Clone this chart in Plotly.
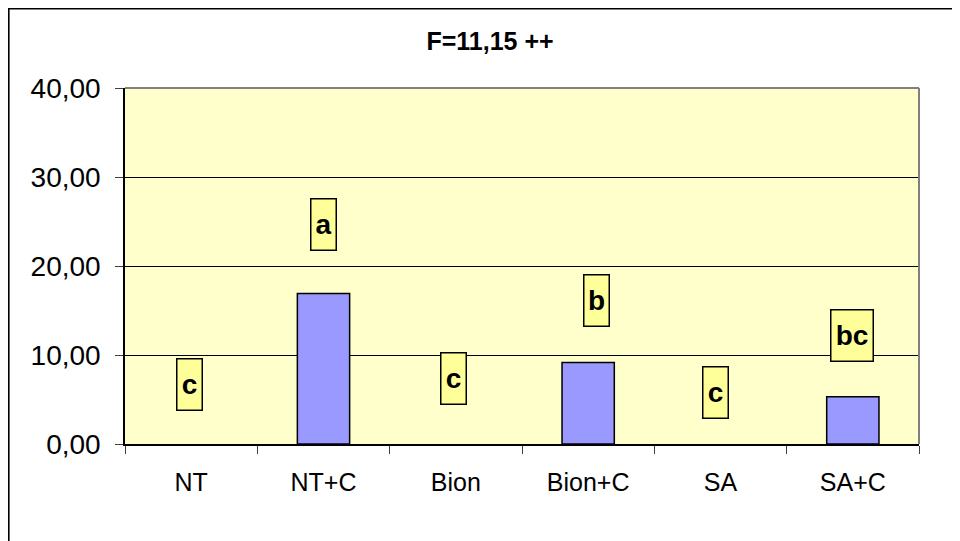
import plotly.graph_objects as go

categories = ["NT", "NT+C", "Bion", "Bion+C", "SA", "SA+C"]
values = [0.0, 16.9, 0.0, 9.15, 0.0, 5.3]
letters = ["c", "a", "c", "b", "c", "bc"]
letter_y = [6.7, 24.65, 7.4, 16.1, 5.8, 12.15]
letter_dx = [-1.5, 0, -2, 8, -5, -1]
y_ticks = [0, 10, 20, 30, 40]
title_text = "F=11,15 ++"

FONT = "Arial, Liberation Sans, sans-serif"

# page body adds 8px offset; figure is sized to fit the 960x541 window
W, H = 952, 533
ML, MR, MT, MB = 117, 41, 80, 97
PW, PH = W - ML - MR, H - MT - MB

fig = go.Figure()
fig.add_trace(go.Bar(
    x=categories, y=values,
    marker=dict(color="#9999FF",
                line=dict(color="black", width=[0 if v == 0 else 1.5 for v in values])),
    width=0.395,
))

for cat, txt, ly, dx in zip(categories, letters, letter_y, letter_dx):
    fig.add_annotation(
        x=cat, y=ly, xref="x", yref="y", text="<b>%s</b>" % txt,
        showarrow=False, xshift=dx,
        font=dict(family=FONT, size=28, color="black"),
        bgcolor="#FFFF99", bordercolor="black", borderwidth=1.5, borderpad=0,
        width=24 if len(txt) == 1 else 41, height=50,
    )

# plot-area top/right grey border
fig.add_shape(type="line", xref="x domain", yref="y domain", x0=0, x1=1, y0=1, y1=1,
              line=dict(color="#808080", width=2))
fig.add_shape(type="line", xref="x domain", yref="y domain", x0=1, x1=1, y0=0, y1=1,
              line=dict(color="#808080", width=2))
# outer chart border
fig.add_shape(type="rect", xref="paper", yref="paper",
              x0=(-ML + 0.8) / PW, x1=1.2, y0=-0.5, y1=1 + (MT - 0.8) / PH,
              line=dict(color="black", width=1.6), layer="below")

fig.update_layout(
    width=W, height=H,
    margin=dict(l=ML, r=MR, t=MT, b=MB, autoexpand=False),
    paper_bgcolor="white", plot_bgcolor="#FFFFCC",
    separators=",.",
    showlegend=False,
    title=dict(text="<b>%s</b>" % title_text, x=482/W, xanchor="center",
               y=1 - 33/H, yanchor="middle", yref="container",
               font=dict(family=FONT, size=25, color="black")),
    font=dict(family=FONT, color="black"),
)
fig.update_xaxes(
    type="category", showline=True, linecolor="black", linewidth=1.5,
    ticks="outside", tickson="boundaries", ticklen=8, tickcolor="#404040", tickwidth=1,
    showgrid=False, tickfont=dict(family=FONT, size=25, color="black"),
    ticklabelstandoff=15,
    range=[-0.5, 5.5],
)
fig.update_yaxes(
    range=[0, 40], tickvals=y_ticks, tickformat=".2f",
    showline=True, linecolor="black", linewidth=1.5,
    ticks="outside", ticklen=8, tickcolor="#404040",
    showgrid=True, gridcolor="black", gridwidth=1,
    zeroline=False, ticklabelstandoff=9,
    tickfont=dict(family=FONT, size=28, color="black"),
)

fig.write_html("out.html")
